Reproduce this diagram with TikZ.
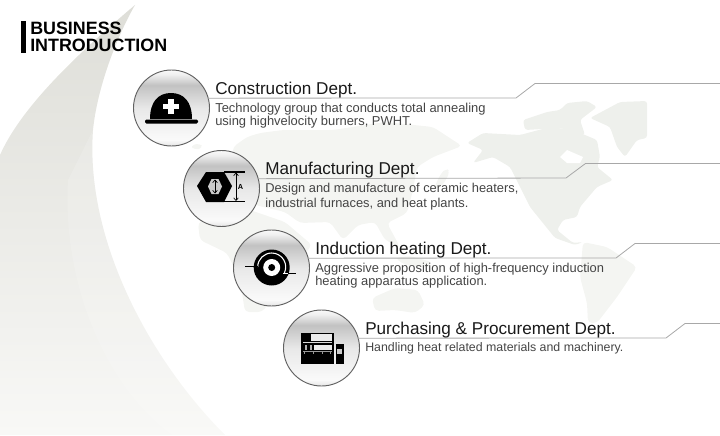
\documentclass[tikz,border=0pt]{standalone}
\usepackage{fontspec}
\setmainfont{Liberation Sans}
\usetikzlibrary{arrows.meta}
\definecolor{swoosh}{HTML}{DEDED8}
\definecolor{swooshmid}{HTML}{E9E9E5}
\definecolor{swooshend}{HTML}{F8F8F6}
\definecolor{mapland}{HTML}{EEF0EC}
\definecolor{mapfaint}{HTML}{F4F5F2}
\definecolor{leadgray}{HTML}{A8A8A8}
\definecolor{subtext}{HTML}{444444}
\pgfdeclareverticalshading{deptshade}{100bp}{color(0bp)=(white!90!black); color(25bp)=(white!90!black); color(29bp)=(white!98!black); color(50bp)=(white!91!black); color(65bp)=(white!76!black); color(72bp)=(white!94!black); color(75bp)=(white!98!black); color(100bp)=(white!98!black)}
\tikzset{
  deptcircle/.style={circle, draw=black!62, line width=0.7pt, minimum size=57pt, inner sep=0pt, outer sep=0pt, shading=deptshade},
  depttitle/.style={anchor=base west, inner sep=0pt, font=\fontsize{12.85}{15}\selectfont, text=black!90},
  deptsub/.style={anchor=north west, inner sep=0pt, align=left, text=subtext},
  deptlead/.style={draw=leadgray, line width=0.6pt},
  land/.style={fill=mapland, draw=none, rounded corners=2pt},
  faintland/.style={fill=mapfaint, draw=none, rounded corners=3pt},
  dimarrow/.style={black, line width=0.5pt, {Straight Barb[length=2pt,width=3.5pt]}-{Straight Barb[length=2pt,width=3.5pt]}}
}
\begin{document}
\begin{tikzpicture}[x=0.75pt, y=-0.75pt]
    \useasboundingbox (0,0) rectangle (720,435);
    % background swoosh
    \shade[top color=swoosh, middle color=swooshmid, bottom color=swooshend] (135,5) .. controls (70,60) and (20,110) .. (0,155) -- (0,435) -- (225,435) .. controls (150,360) and (85,240) .. (93,130) .. controls (97,90) and (115,40) .. (135,5) -- cycle;
    \fill[white, opacity=0.15] (68,180) .. controls (62,290) and (110,390) .. (172,435) -- (225,435) .. controls (150,360) and (85,240) .. (93,130) -- cycle;
    % world map
    \fill[land] (590,118) -- (620,102) -- (647,101) -- (647,138) -- (637,140) -- (625,157) -- (617,147) -- (610,127) -- cycle;
    \fill[land] (523,120) -- (547,112) -- (560,110) -- (567,103) -- (587,101) -- (597,107) -- (580,120) -- (585,135) -- (560,128) -- (525,130) -- cycle;
    \fill[land] (467,143) -- (483,133) -- (520,135) -- (550,127) -- (573,130) -- (597,140) -- (600,157) -- (597,167) -- (613,180) -- (597,187) -- (580,207) -- (577,217) -- (563,220) -- (557,230) -- (573,243) -- (583,242) -- (575,245) -- (555,238) -- (530,207) -- (520,187) -- (510,167) -- (493,157) -- (473,163) -- (483,150) -- cycle;
    \fill[white] (560,157) -- (567,150) -- (583,157) -- (580,163) -- (567,163) -- cycle;
    \fill[faintland] (583,242) -- (607,247) -- (637,267) -- (617,297) -- (597,323) -- (588,323) -- (587,303) -- (580,277) -- cycle;
    \fill[faintland] (233,147) -- (247,137) -- (260,133) -- (283,130) -- (333,130) -- (385,122) -- (433,127) -- (462,146) -- (433,157) -- (417,167) -- (413,190) -- (407,213) -- (387,223) -- (400,247) -- (385,240) -- (375,222) -- (358,225) -- (343,240) -- (330,222) -- (300,223) -- (285,212) -- (255,205) -- (240,195) -- (232,170) -- cycle;
    \fill[faintland] (198,223) -- (215,212) -- (250,210) -- (285,222) -- (312,245) -- (298,262) -- (280,290) -- (262,312) -- (245,312) -- (240,280) -- (227,253) -- (200,240) -- cycle;
    \fill[faintland] (190,146) -- (200,143) -- (203,148) -- (195,150) -- cycle;
    \fill[faintland] (440,175) -- (446,168) -- (450,172) -- (443,185) -- (433,190) -- cycle;
    \fill[faintland] (395,258) -- (410,256) -- (432,262) -- (428,268) -- (405,265) -- cycle;
    \fill[faintland] (372,298) -- (395,288) -- (418,290) -- (425,305) -- (415,313) -- (395,310) -- (375,311) -- cycle;
    % leaders, from circle to page edge
    \node[deptcircle] (conscircle) at (171.5,108) {};
    \node[deptcircle] (manucircle) at (221.5,188.5) {};
    \node[deptcircle] (induccircle) at (271.5,268) {};
    \node[deptcircle] (purchcircle) at (321.5,348) {};
    \coordinate (consbend) at (516,98);
    \coordinate (conskink) at (535,83.5);
    \coordinate (consend) at (720,83.5);
    \coordinate (manubend) at (566,178);
    \coordinate (manukink) at (585.5,163.5);
    \coordinate (manuend) at (720,163.5);
    \coordinate (inducbend) at (616,258);
    \coordinate (inducind) at (635,243.5);
    \coordinate (inducend) at (720,243.5);
    \coordinate (purchbend) at (666,338);
    \coordinate (purchkink) at (685,323.5);
    \coordinate (purchend) at (720,323.5);
    \draw[deptlead] (conscircle.15) -- (consbend) -- (conskink) -- (consend);
    \draw[deptlead] (manucircle.15) -- (manubend) -- (manukink) -- (manuend);
    \draw[deptlead] (induccircle.15) -- (inducbend) -- (inducind) -- (inducend);
    \draw[deptlead] (purchcircle.15) -- (purchbend) -- (purchkink) -- (purchend);
    % heading
    \fill[black] (21,21) rectangle (26,53);
    \node[anchor=north west, inner sep=0pt, align=left, font=\fontsize{13.4}{12.6}\bfseries\selectfont] (heading) at (30,21.5) {BUSINESS\\INTRODUCTION};
    % texts
    \node[depttitle] (constitle) at (215,94) {Construction Dept.};
    \node[deptsub, font=\fontsize{9.7}{10}\selectfont] (conssub) at (215,102.5) {Technology group that conducts total annealing\\using highvelocity burners, PWHT.};
    \node[depttitle] (manutitle) at (265,174) {Manufacturing Dept.};
    \node[deptsub, font=\fontsize{9.65}{10}\selectfont] (manusub) at (265,182.5) {Design and manufacture of ceramic heaters,\\[1.2pt]industrial furnaces, and heat plants.};
    \node[depttitle] (inductitle) at (315,254) {Induction heating Dept.};
    \node[deptsub, font=\fontsize{9.67}{10}\selectfont] (inducsub) at (315,262.5) {Aggressive proposition of high-frequency induction\\heating apparatus application.};
    \node[depttitle] (purchtitle) at (365,334) {Purchasing \& Procurement Dept.};
    \node[deptsub, font=\fontsize{9.27}{10}\selectfont] (purchsub) at (365,342.5) {Handling heat related materials and machinery.};
    % helmet
    \fill[black] (150,119) .. controls (150,102) and (158,93) .. (171,93) .. controls (184,93) and (192,102) .. (192,119) -- cycle;
    \fill[black, rounded corners=1pt] (145,119.5) rectangle (198,123.5);
    \fill[white] (168,98.5) rectangle (173.5,114);
    \fill[white] (163,103.5) rectangle (178.5,109);
    % nut
    \fill[black] (197,186) -- (206,172) -- (224,172) -- (232,186) -- (224,202) -- (206,202) -- cycle;
    \fill[white!80!black] (208,186.5) -- (211.5,179) -- (218.5,179) -- (222,186.5) -- (218.5,194) -- (211.5,194) -- cycle;
    \draw[dimarrow] (215,179.5) -- (215,193.5);
    \draw[black, line width=0.8pt] (224,172) -- (245,172);
    \draw[black, line width=0.8pt] (224,201.5) -- (245,201.5);
    \draw[dimarrow] (236,172.5) -- (236,201);
    \node[inner sep=0pt, font=\fontsize{5.5}{5.5}\bfseries\selectfont] (nutlabel) at (240.5,187) {A};
    % induction coil
    \fill[black] (271.7,267.5) circle[radius=18];
    \fill[white] (271.7,267.5) circle[radius=8.5];
    \fill[black] (271.7,267.5) circle[radius=3.5];
    \draw[white, line width=0.8pt] (257.7,267) arc[start angle=180, end angle=385, radius=14];
    \draw[black, line width=0.9pt] (245,266.3) -- (258,266.3);
    \draw[white, line width=0.9pt] (283,273.2) -- (288,273.2);
    \draw[black, line width=0.9pt] (288,273.2) -- (296,273.2);
    % machine
    \fill[black] (300.7,332.7) rectangle (334,364.3);
    \fill[white!92!black] (310.7,334) rectangle (332.3,340.7);
    \fill[white!85!black] (302.7,342.4) rectangle (332.3,343.2);
    \fill[white!92!black] (314,345) rectangle (332.3,350);
    \fill[white!70!black] (305,345) rectangle (306.7,350);
    \fill[white!70!black] (310,345) rectangle (312,350);
    \fill[white!60!black] (302.7,351) rectangle (332.3,351.8);
    \fill[white!60!black] (304,352) rectangle (304.8,354);
    \fill[white!60!black] (313,352) rectangle (313.8,354);
    \fill[white!60!black] (321.5,352) rectangle (322.3,354);
    \fill[white!60!black] (329.5,352) rectangle (330.3,354);
    \fill[black] (335.7,344) rectangle (344,364.3);
    \fill[white!80!black] (337.3,349.3) rectangle (342.3,354);
\end{tikzpicture}
\end{document}
